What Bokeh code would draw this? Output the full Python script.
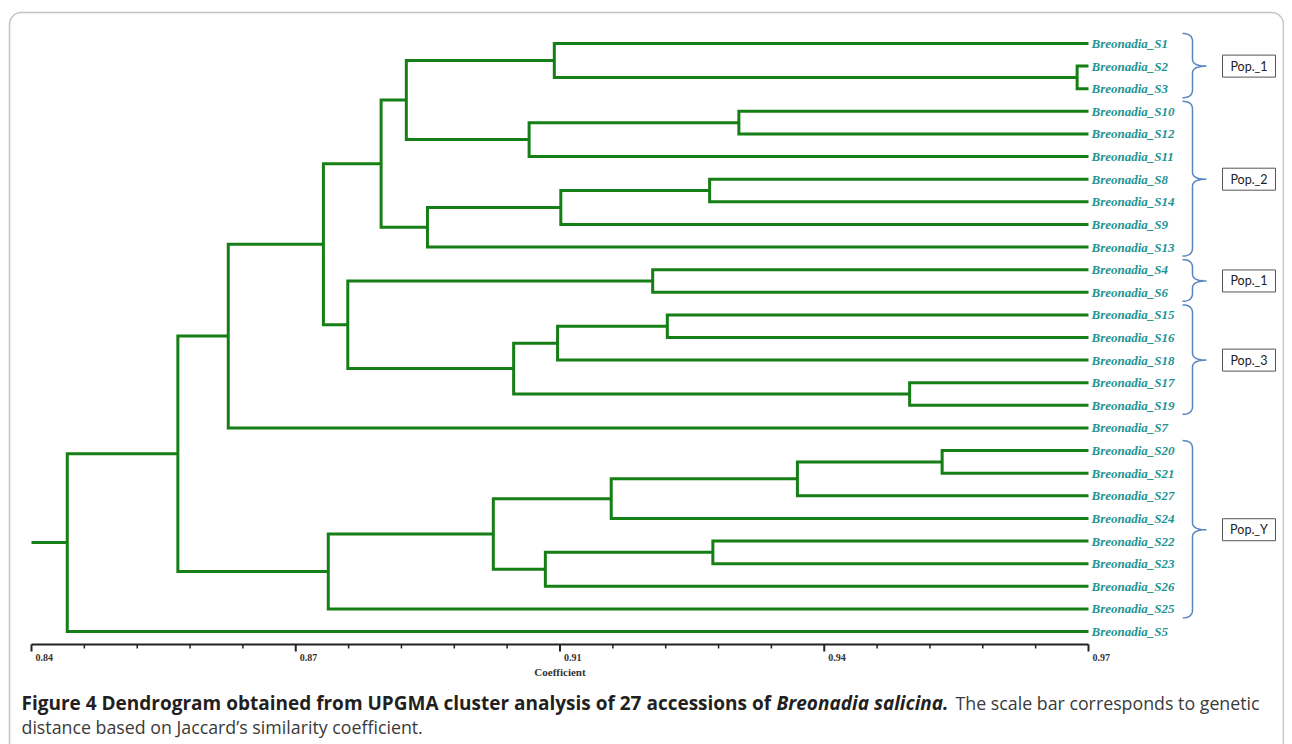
import numpy as np
from bokeh.plotting import figure
from bokeh.models import Range1d, BoxAnnotation
from bokeh.core.properties import value
from bokeh.embed import file_html
from bokeh.resources import INLINE

# ---------------- data ----------------
leaves = ["Breonadia_S1", "Breonadia_S2", "Breonadia_S3", "Breonadia_S10", "Breonadia_S12",
          "Breonadia_S11", "Breonadia_S8", "Breonadia_S14", "Breonadia_S9", "Breonadia_S13",
          "Breonadia_S4", "Breonadia_S6", "Breonadia_S15", "Breonadia_S16", "Breonadia_S18",
          "Breonadia_S17", "Breonadia_S19", "Breonadia_S7", "Breonadia_S20", "Breonadia_S21",
          "Breonadia_S27", "Breonadia_S24", "Breonadia_S22", "Breonadia_S23", "Breonadia_S26",
          "Breonadia_S25", "Breonadia_S5"]
# linkage: node 27+k joins merge_a[k] and merge_b[k] at merge_height[k]
merge_a = [1, 0, 3, 29, 28, 6, 32, 33, 31, 10, 12, 37, 15, 38, 36, 35, 42, 18, 44, 45, 22, 47, 46, 49, 43, 51]
merge_b = [2, 27, 4, 5, 30, 7, 8, 9, 34, 11, 13, 14, 16, 39, 40, 41, 17, 19, 20, 21, 23, 24, 48, 25, 50, 26]
merge_height = [0.9686, 0.9043, 0.9270, 0.9012, 0.8861, 0.9234, 0.9051, 0.8887, 0.8830, 0.9164,
                0.9182, 0.9047, 0.9480, 0.8993, 0.8789, 0.8759, 0.8642, 0.9520, 0.9342, 0.9113,
                0.9238, 0.9032, 0.8968, 0.8765, 0.8580, 0.8444]
leaf_level = 0.97
root_start = 0.84

groups = ["Pop._1", "Pop._2", "Pop._1", "Pop._3", "Pop._Y"]
group_first = [0, 3, 10, 12, 18]
group_last = [2, 9, 11, 16, 25]

major_ticks = [0.84, 0.8725, 0.905, 0.9375, 0.97]
tick_labels = ["0.84", "0.87", "0.91", "0.94", "0.97"]
axis_title = "Coefficient"

caption_bold = "Figure 4 Dendrogram obtained from UPGMA cluster analysis of 27 accessions of"
caption_species = "Breonadia salicina."
caption_rest1 = "The scale bar corresponds to genetic"
caption_line2 = "distance based on Jaccard\u2019s similarity coefficient."

# ---------------- geometry ----------------
W, H = 1284, 744
OFF = 0                      # canvas origin in the picture
AX_P0, AX_P1 = 31, 1088      # picture x of axis ends
ROW0, ROW_STEP = 43, 22.615  # picture y of first row, row spacing
k = (AX_P1 - AX_P0) / (major_ticks[-1] - major_ticks[0])  # px per unit

x0 = major_ticks[0] - (AX_P0 - OFF) / k
x1 = x0 + W / k
y_top = (OFF - ROW0) / ROW_STEP
y_bot = y_top + H / ROW_STEP


def sx(px):
    return x0 + (px - OFF) / k


def sy(py):
    return (py - ROW0) / ROW_STEP


p = figure(width=W, height=H, output_backend="svg", toolbar_location=None,
           x_range=Range1d(x0, x1), y_range=Range1d(y_bot, y_top),
           x_axis_location=None, y_axis_location=None, min_border=0)
p.xgrid.visible = False
p.ygrid.visible = False
p.outline_line_color = None
p.background_fill_color = "white"
p.border_fill_color = "white"

# outer rounded frame
p.add_layout(BoxAnnotation(left=sx(9), right=sx(1283), top=sy(12), bottom=sy(800),
                           fill_alpha=0, line_color="#3a3a3a", line_width=1.5,
                           border_radius=12, level="underlay"))

# ---------------- dendrogram ----------------
n = len(leaves)
node_x = [leaf_level] * n
node_y = list(range(n))
xs, ys = [], []
for a, b, h in zip(merge_a, merge_b, merge_height):
    xs.append([node_x[a], h, h, node_x[b]])
    ys.append([node_y[a], node_y[a], node_y[b], node_y[b]])
    node_x.append(h)
    node_y.append((node_y[a] + node_y[b]) / 2)
xs.append([root_start, node_x[-1]])
ys.append([node_y[-1], node_y[-1]])

GREEN = "#157f15"
p.multi_line(xs, ys, line_color=GREEN, line_width=3, line_join="miter", line_cap="butt")

p.text(x=[leaf_level + 3 / k] * n, y=list(range(n)), text=leaves,
       text_font=value("Liberation Serif"), text_font_style="bold italic",
       text_font_size="13px", text_color="#1f9494", text_baseline="middle", text_align="left")


# ---------------- braces & population boxes ----------------
def qbez(p0, c, p1, m=10):
    t = np.linspace(0, 1, m)
    bxs = (1 - t) ** 2 * p0[0] + 2 * (1 - t) * t * c[0] + t ** 2 * p1[0]
    bys = (1 - t) ** 2 * p0[1] + 2 * (1 - t) * t * c[1] + t ** 2 * p1[1]
    return list(bxs), list(bys)


XH, XV, XT = 1182, 1192, 1206
bx, by = [], []
box_y = []
for f, l in zip(group_first, group_last):
    top = ROW0 + f * ROW_STEP - 10
    bot = ROW0 + l * ROW_STEP + 9
    mid = ROW0 + (f + l) / 2 * ROW_STEP
    px, py = [], []
    for seg in [qbez((XH, top), (XV, top), (XV, top + 8)),
                ([XV, XV], [top + 8, mid - 7]),
                qbez((XV, mid - 7), (XV, mid), (XT, mid)),
                qbez((XT, mid), (XV, mid), (XV, mid + 7)),
                ([XV, XV], [mid + 7, bot - 8]),
                qbez((XV, bot - 8), (XV, bot), (XH, bot))]:
        px += list(seg[0])
        py += list(seg[1])
    bx.append([sx(v) for v in px])
    by.append([sy(v) for v in py])
    box_y.append(sy(mid))

p.multi_line(bx, by, line_color="#5a86c0", line_width=1.5)
p.rect(x=[sx(1248.5)] * len(groups), y=box_y, width=53, height=22,
       width_units="screen", height_units="screen",
       fill_color="white", line_color="#555555", line_width=1)
p.text(x=[sx(1248.5)] * len(groups), y=box_y, text=groups,
       text_font=value("Lato"), text_font_size="12.5px", text_color="#222222",
       text_align="center", text_baseline="middle")

# ---------------- scale axis ----------------
AXIS_Y = 644
minor = []
for a, b in zip(major_ticks[:-1], major_ticks[1:]):
    minor += list(np.linspace(a, b, 6)[1:-1])
p.segment(x0=[major_ticks[0]], x1=[major_ticks[-1]], y0=[sy(AXIS_Y)], y1=[sy(AXIS_Y)],
          line_color="#222222", line_width=2)
p.segment(x0=major_ticks, x1=major_ticks, y0=[sy(AXIS_Y)] * 5, y1=[sy(AXIS_Y + 7)] * 5,
          line_color="#222222", line_width=2)
p.segment(x0=minor, x1=minor, y0=[sy(AXIS_Y)] * len(minor), y1=[sy(AXIS_Y + 4)] * len(minor),
          line_color="#222222", line_width=1.5)
p.text(x=[t + 4 / k for t in major_ticks], y=[sy(AXIS_Y + 13)] * 5, text=tick_labels,
       text_font=value("Liberation Serif"), text_font_style="bold", text_font_size="10px",
       text_color="#333333", text_align="left", text_baseline="middle")
p.text(x=[major_ticks[2]], y=[sy(AXIS_Y + 27)], text=[axis_title],
       text_font=value("Liberation Serif"), text_font_style="bold", text_font_size="11px",
       text_color="#333333", text_align="center", text_baseline="middle")

# ---------------- caption ----------------
CAP1, CAP2 = 702, 726
cap_font = value("Open Sans")
p.text(x=[sx(21)], y=[sy(CAP1)], text=[caption_bold], text_font=cap_font,
       text_font_style="bold", text_font_size="19px", text_color="#231f20",
       text_align="left", text_baseline="middle")
p.text(x=[sx(776)], y=[sy(CAP1)], text=[caption_species], text_font=cap_font,
       text_font_style="bold italic", text_font_size="19px", text_color="#231f20",
       text_align="left", text_baseline="middle")
p.text(x=[sx(955)], y=[sy(CAP1)], text=[caption_rest1], text_font=cap_font,
       text_font_size="17.8px", text_color="#3a3a3a",
       text_align="left", text_baseline="middle")
p.text(x=[sx(21)], y=[sy(CAP2)], text=[caption_line2], text_font=cap_font,
       text_font_size="17.8px", text_color="#3a3a3a",
       text_align="left", text_baseline="middle")

open("out.html", "w").write(file_html(p, INLINE))
